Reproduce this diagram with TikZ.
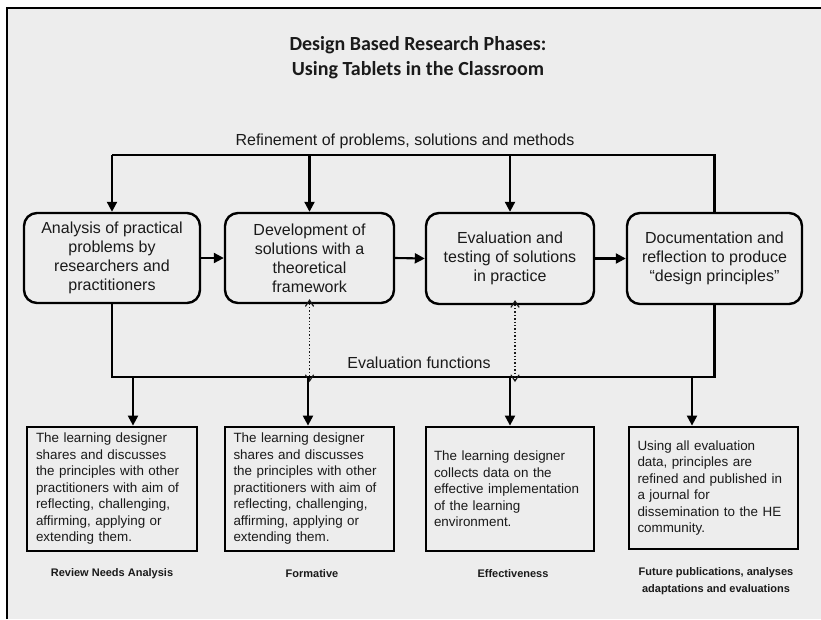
\documentclass[tikz,border=0pt]{standalone}
\usepackage{fontspec}
\setmainfont{Liberation Sans}
\newfontfamily\titlefont{Carlito}
\usetikzlibrary{arrows.meta}
\definecolor{bggray}{HTML}{EDEDED}
\definecolor{txt}{HTML}{1A1A1A}
\begin{document}
\begin{tikzpicture}[x=1pt,y=-1pt,
 phase/.style={draw=black, line width=2.4pt, rounded corners=13pt, fill=bggray, align=center,
   font=\fontsize{16}{19}\selectfont, text=txt, inner sep=0pt},
 detail/.style={draw=black, line width=2.8pt, fill=bggray, align=left, text width=152pt,
   font=\fontsize{13.4}{16.5}\selectfont, text=txt, inner sep=0pt, minimum height=124pt},
 conn/.style={line width=2.1pt, draw=black},
 arr/.style={conn, -{Triangle[length=10pt,width=10pt]}},
 dotline/.style={line width=1.4pt, draw=txt, dotted},
 chev/.style={line width=1.2pt, draw=txt, line cap=round, line join=miter},
 lbl/.style={font=\fontsize{11}{17}\selectfont\bfseries, align=center, text=txt},
 plain/.style={font=\fontsize{16}{19}\selectfont, text=txt}
]
\useasboundingbox (0,0) rectangle (821,619);
\fill[bggray] (7,8) rectangle (821,619);
\draw[line width=1.8pt] (7,619) -- (7,8) -- (821,8);

\node[font=\titlefont\fontsize{20}{25}\selectfont\bfseries, align=center, text=txt] (title) at (418,57.5)
  {Design Based Research Phases:\\Using Tablets in the Classroom};

\node[plain] (reflbl) at (405,141) {Refinement of problems, solutions and methods};
\node[plain] (evallbl) at (419,363) {Evaluation functions};

% phase boxes
\node[phase, minimum width=176pt, minimum height=90pt] (b1) at (112,258)
  {Analysis of practical\\problems by\\researchers and\\practitioners};
\node[phase, minimum width=169pt, minimum height=90pt] (b2) at (309.5,258)
  {Development of\\solutions with a\\theoretical\\framework};
\node[phase, minimum width=168pt, minimum height=91pt] (b3) at (510,258.5)
  {Evaluation and\\testing of solutions\\in practice};
\node[phase, minimum width=175pt, minimum height=91pt] (b4) at (714.5,258.5)
  {Documentation and\\reflection to produce\\“design principles”};

% detail boxes
\node[detail, minimum width=170pt] (d1) at (112,489)
  {The learning designer\\shares and discusses\\the principles with other\\practitioners with aim of\\reflecting, challenging,\\affirming, applying or\\extending them.};
\node[detail, minimum width=169pt] (d2) at (309.5,489)
  {The learning designer\\shares and discusses\\the principles with other\\practitioners with aim of\\reflecting, challenging,\\affirming, applying or\\extending them.};
\node[detail, minimum width=168pt] (d3) at (510,489)
  {The learning designer\\collects data on the\\effective implementation\\of the learning\\environment.};
\node[detail, minimum width=169pt, minimum height=122pt] (d4) at (713.5,488)
  {Using all evaluation\\data, principles are\\refined and published in\\a journal for\\dissemination to the HE\\community.};

% bottom labels
\node[lbl] (l1) at (112,574) {Review Needs Analysis};
\node[lbl] (l2) at (312,574) {Formative};
\node[lbl] (l3) at (513,574) {Effectiveness};
\node[lbl] (l4) at (716,581.5) {Future publications, analyses\\adaptations and evaluations};

% horizontal arrows between phases
\draw[arr] (b1.east) -- (b2.west);
\draw[arr] (b2.east) -- (b3.west);
\draw[arr] (b3.east) -- (b4.west);

% refinement loop
\coordinate (top) at (112,155);
\draw[conn] (b4.north) |- (top);
\draw[arr] (top) -- (b1.north);
\draw[arr] (b2.north |- top) -- (b2.north);
\draw[arr] (b3.north |- top) -- (b3.north);

% evaluation line
\coordinate (ev) at (0,377);
\draw[conn] (b1.south) |- (b4.south |- ev) -- (b4.south);

% dotted double arrows
\coordinate (p2t) at ([yshift=4pt]b2.south);
\coordinate (p2b) at ([yshift=-4pt]b2.south |- ev);
\coordinate (p3t) at ([xshift=5pt,yshift=4pt]b3.south);
\coordinate (p3b) at ([xshift=5pt,yshift=-4pt]b3.south |- ev);
\draw[dotline] (p2t) -- (p2b);
\draw[dotline] (p3t) -- (p3b);
\draw[chev] ([shift={(-4,6)}]p2t) -- (p2t) -- ([shift={(4,6)}]p2t);
\draw[chev] ([shift={(-4,-6)}]p2b) -- (p2b) -- ([shift={(4,-6)}]p2b);
\draw[chev] ([shift={(-4,6)}]p3t) -- (p3t) -- ([shift={(4,6)}]p3t);
\draw[chev] ([shift={(-4,-6)}]p3b) -- (p3b) -- ([shift={(4,-6)}]p3b);

% arrows down to detail boxes
\draw[arr] ([xshift=21pt]d1.north |- ev) -- ([xshift=21pt]d1.north);
\draw[arr] ([xshift=-1.5pt]d2.north |- ev) -- ([xshift=-1.5pt]d2.north);
\draw[arr] (d3.north |- ev) -- (d3.north);
\draw[arr] ([xshift=-21.5pt]d4.north |- ev) -- ([xshift=-21.5pt]d4.north);
\end{tikzpicture}
\end{document}
